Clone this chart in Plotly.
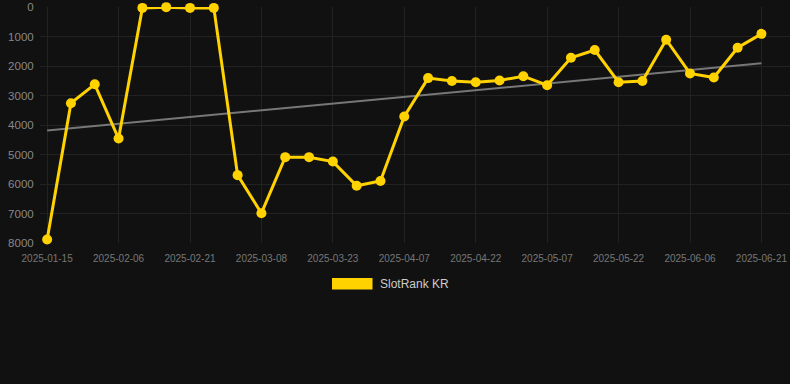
import plotly.graph_objects as go

dates = ["2025-01-15", "2025-01-22", "2025-01-29", "2025-02-06", "2025-02-11", "2025-02-16",
         "2025-02-21", "2025-02-26", "2025-03-03", "2025-03-08", "2025-03-13", "2025-03-18",
         "2025-03-23", "2025-03-28", "2025-04-02", "2025-04-07", "2025-04-12", "2025-04-17",
         "2025-04-22", "2025-04-27", "2025-05-02", "2025-05-07", "2025-05-12", "2025-05-17",
         "2025-05-22", "2025-05-27", "2025-06-01", "2025-06-06", "2025-06-11", "2025-06-16",
         "2025-06-21"]
rank = [7880, 3260, 2620, 4460, 30, 5, 30, 30, 5700, 6990, 5090, 5090,
        5240, 6060, 5900, 3710, 2410, 2510, 2550, 2490, 2345, 2650, 1720, 1460,
        2550, 2510, 1110, 2250, 2390, 1380, 910]
trend_x = [dates[0], dates[-1]]
trend_y = [4186, 1908]
tick_labels = dates[::3]
y_ticks = [0, 1000, 2000, 3000, 4000, 5000, 6000, 7000, 8000]
series_name = "SlotRank KR"

yellow = "#FFD200"
bg = "#111111"
grid = "#222222"

fig = go.Figure()
fig.add_trace(go.Scatter(x=trend_x, y=trend_y, mode="lines",
                         line=dict(color="#777777", width=2), showlegend=False,
                         hoverinfo="skip"))
fig.add_trace(go.Scatter(x=dates, y=rank, mode="lines+markers", name=series_name,
                         line=dict(color=yellow, width=3), cliponaxis=False,
                         marker=dict(color=yellow, size=10), showlegend=False))

fig.update_layout(
    width=790, height=384,
    paper_bgcolor=bg, plot_bgcolor=bg,
    margin=dict(l=40, r=0, t=7, b=141),
    font=dict(family="Liberation Sans, Arial, sans-serif"),
    xaxis=dict(type="category", categoryorder="array", categoryarray=dates,
               range=[-0.3, 31.2], tickmode="array", tickvals=tick_labels,
               ticktext=tick_labels, showgrid=True, gridcolor=grid, gridwidth=1,
               zeroline=False, showline=False, ticks="outside", ticklen=6,
               tickcolor="rgba(0,0,0,0)", tickfont=dict(size=10, color="#777777")),
    yaxis=dict(range=[8000, 0], tickmode="array", tickvals=y_ticks, tickformat="d",
               showgrid=True, gridcolor=grid, gridwidth=1, zeroline=False,
               showline=False, tickfont=dict(size=11.5, color="#888888"), ticklen=3,
               ticks="outside", tickcolor="rgba(0,0,0,0)"),
    shapes=[dict(type="rect", xref="paper", yref="paper",
                 x0=(332 - 40) / 750, x1=(372.5 - 40) / 750,
                 y0=(384 - 141 - 289.5) / 236, y1=(384 - 141 - 278) / 236,
                 fillcolor=yellow, line=dict(width=0))],
    annotations=[dict(text=series_name, xref="paper", yref="paper",
                      x=(378 - 40) / 750, y=(384 - 141 - 284) / 236,
                      xanchor="left", yanchor="middle", showarrow=False,
                      font=dict(size=12, color="#cccccc"))],
)

fig.write_html("out.html", config={"displayModeBar": False},
               post_script="document.body.style.margin='0';document.body.style.background='#111111';")
